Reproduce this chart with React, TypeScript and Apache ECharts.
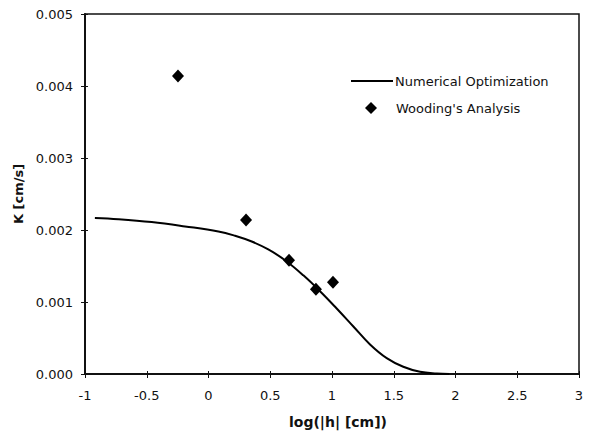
import React, { useEffect, useRef } from "react";
import * as echarts from "echarts";

const curveX = [-0.92, -0.73, -0.46, -0.19, 0.08, 0.215, 0.35, 0.484, 0.62, 0.768, 0.903, 1.038, 1.173, 1.308, 1.443, 1.577, 1.713, 1.848, 1.95];
const curveY = [0.002167, 0.00215, 0.00211, 0.00205, 0.00198, 0.00192, 0.00184, 0.00173, 0.00158, 0.00137, 0.00115, 0.00091, 0.00066, 0.00041, 0.00022, 0.0001, 0.00003, 0.000006, 0];
const woodX = [-0.247, 0.304, 0.652, 0.87, 1.008];
const woodY = [0.00414, 0.00214, 0.00158, 0.001176, 0.001274];
const xTickMin = -1, xTickMax = 3, xTickStep = 0.5;
const yTickMin = 0, yTickMax = 0.005, yTickStep = 0.001;
const seriesNames = ["Numerical Optimization", "Wooding's Analysis"];
const xTitle = "log(|h| [cm])";
const yTitle = "K [cm/s]";

const FONT = "DejaVu Sans";

export default function App() {
  const ref = useRef<HTMLDivElement>(null);
  useEffect(() => {
    if (!ref.current) return;
    const chart = echarts.init(ref.current, undefined, { renderer: "svg" });
    const baseX = {
      type: "value" as const,
      min: xTickMin,
      max: xTickMax,
      interval: xTickStep,
      splitLine: { show: false },
    };
    const baseY = {
      type: "value" as const,
      min: yTickMin,
      max: yTickMax,
      interval: yTickStep,
      splitLine: { show: false },
    };
    chart.setOption({
      animation: false,
      backgroundColor: "#fff",
      grid: {
        left: 85,
        top: 14,
        right: 18,
        bottom: 62,
        show: true,
        borderColor: "#111",
        borderWidth: 1.5,
      },
      legend: { show: false },
      graphic: [
        {
          type: "line",
          shape: { x1: 351, y1: 81, x2: 393, y2: 81 },
          style: { stroke: "#000", lineWidth: 2 },
        },
        {
          type: "text",
          x: 395,
          y: 81,
          style: { text: seriesNames[0], fontFamily: FONT, fontSize: 13, fill: "#111", verticalAlign: "middle", align: "left" },
        },
        {
          type: "polygon",
          shape: { points: [[371, 102], [377, 108], [371, 114], [365, 108]] },
          style: { fill: "#000" },
        },
        {
          type: "text",
          x: 396,
          y: 108,
          style: { text: seriesNames[1], fontFamily: FONT, fontSize: 13, fill: "#111", verticalAlign: "middle", align: "left" },
        },
      ],
      xAxis: [
        {
          ...baseX,
          position: "bottom",
          name: xTitle,
          nameLocation: "middle",
          nameGap: 41,
          nameTextStyle: { fontFamily: FONT, fontSize: 14, fontWeight: "bold", color: "#111", padding: [0, 0, 0, 12] },
          axisLine: { show: true, onZero: false, lineStyle: { color: "#111", width: 2 } },
          axisTick: { show: true, inside: false, length: 4, lineStyle: { color: "#111", width: 1 } },
          axisLabel: {
            margin: 15,
            fontFamily: FONT,
            fontSize: 13,
            color: "#111",
            formatter: (v: number) => String(v),
          },
        },
        {
          ...baseX,
          position: "bottom",
          axisLine: { show: false, onZero: false },
          axisTick: { show: true, inside: true, length: 3, lineStyle: { color: "#111", width: 1 } },
          axisLabel: { show: false },
        },
      ],
      yAxis: [
        {
          ...baseY,
          position: "left",
          name: yTitle,
          nameLocation: "middle",
          nameGap: 58,
          nameTextStyle: { fontFamily: FONT, fontSize: 13, fontWeight: "bold", color: "#111" },
          axisLine: { show: true, onZero: false, lineStyle: { color: "#111", width: 2 } },
          axisTick: { show: true, inside: false, length: 4, lineStyle: { color: "#111", width: 1 } },
          axisLabel: {
            margin: 12,
            fontFamily: FONT,
            fontSize: 13,
            color: "#111",
            formatter: (v: number) => v.toFixed(3),
          },
        },
        {
          ...baseY,
          position: "left",
          axisLine: { show: false, onZero: false },
          axisTick: { show: true, inside: true, length: 3, lineStyle: { color: "#111", width: 1 } },
          axisLabel: { show: false },
        },
      ],
      series: [
        {
          name: seriesNames[0],
          type: "line",
          xAxisIndex: 0,
          yAxisIndex: 0,
          data: curveX.map((x, i) => [x, curveY[i]]),
          smooth: 0.4,
          symbol: "none",
          lineStyle: { color: "#000", width: 2 },
          itemStyle: { color: "#000" },
        },
        {
          name: seriesNames[1],
          type: "scatter",
          xAxisIndex: 0,
          yAxisIndex: 0,
          data: woodX.map((x, i) => [x, woodY[i]]),
          symbol: "diamond",
          symbolSize: [12, 13],
          itemStyle: { color: "#000", opacity: 1 },
        },
      ],
    });
    return () => chart.dispose();
  }, []);
  return <div ref={ref} style={{ width: 597, height: 436, position: "absolute", left: 0, top: 0 }} />;
}
